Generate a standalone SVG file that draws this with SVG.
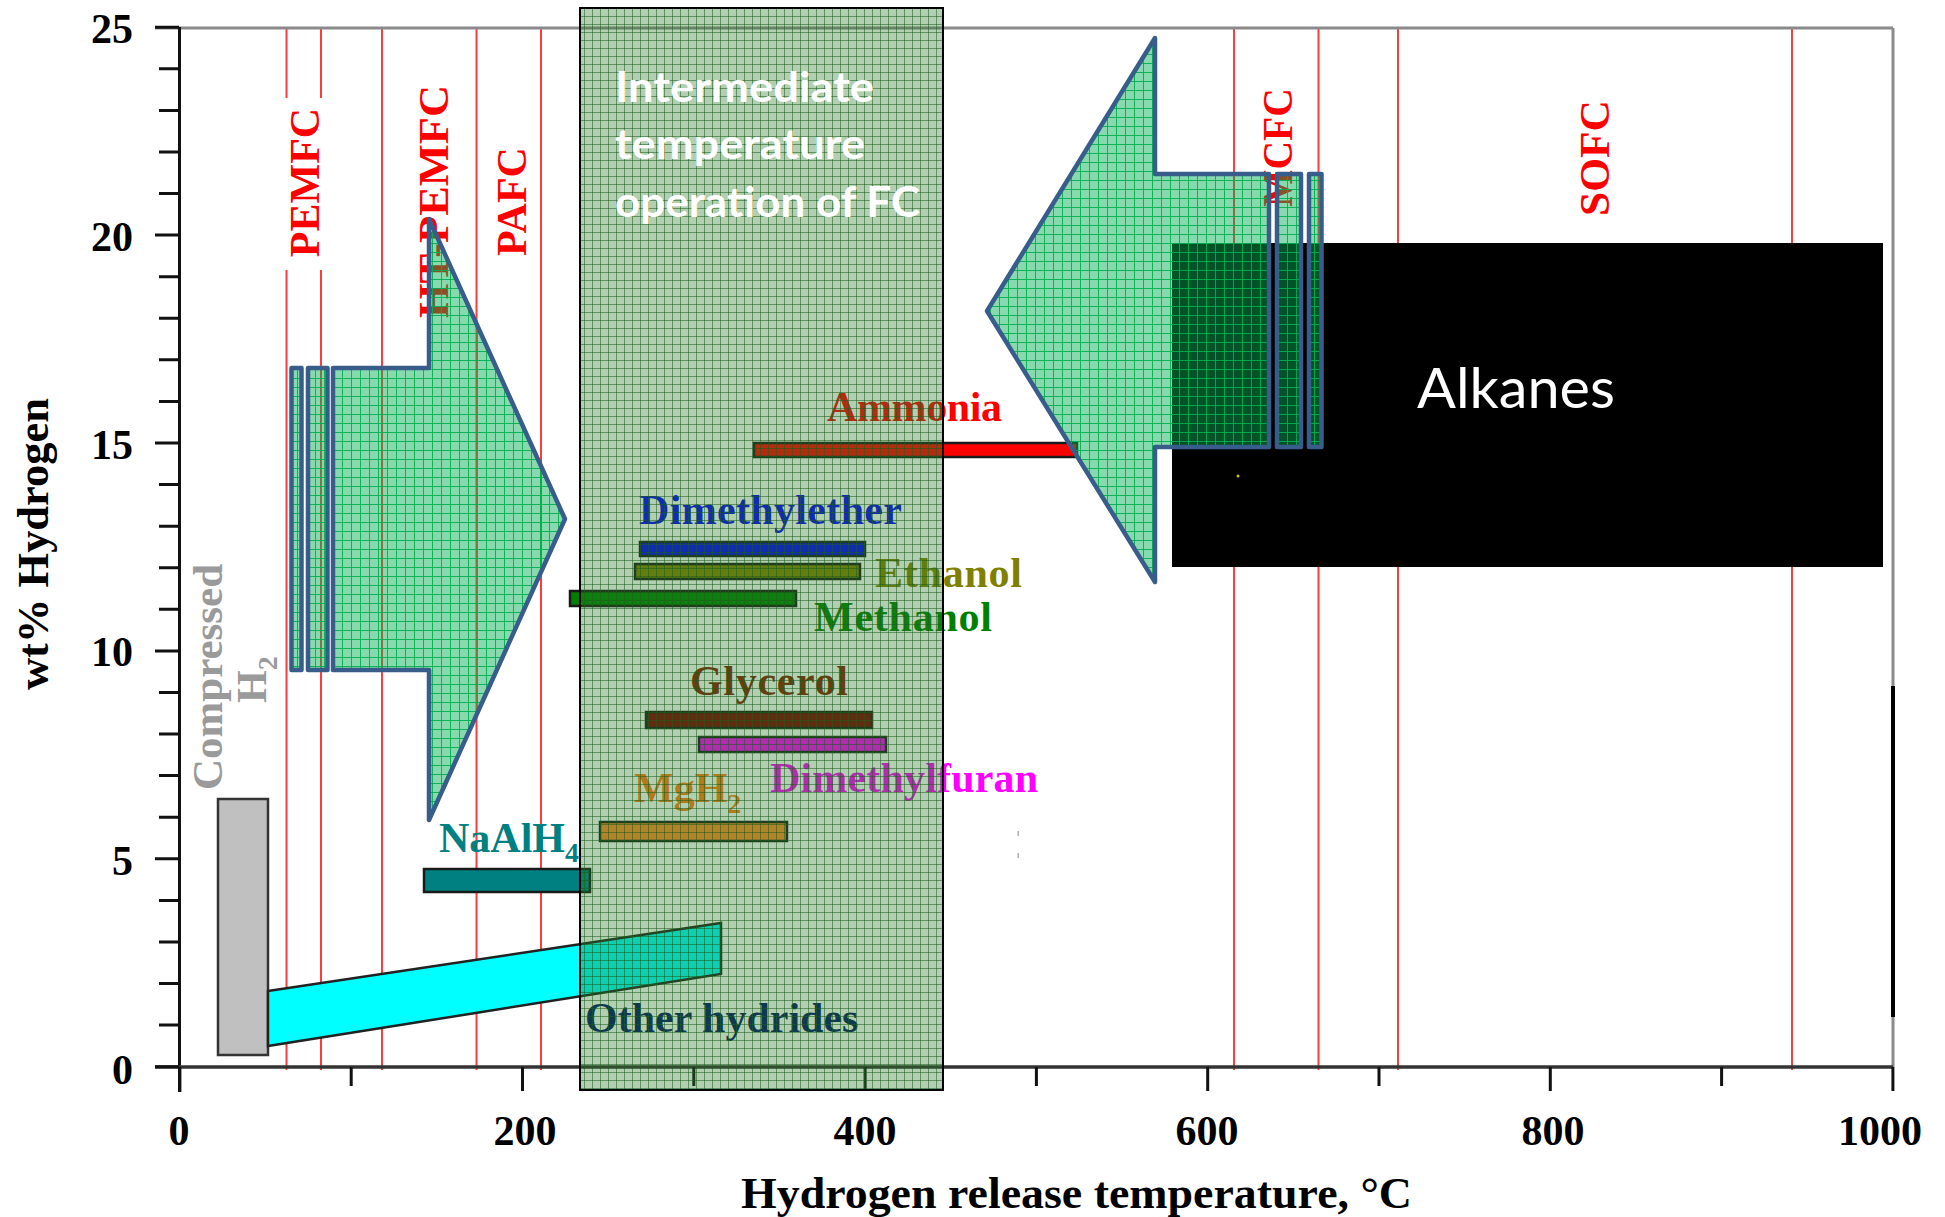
<svg xmlns="http://www.w3.org/2000/svg" width="1945" height="1217" viewBox="0 0 1945 1217">
<defs>
  <pattern id="hatchFC" width="8" height="8" patternUnits="userSpaceOnUse">
    <rect width="8" height="8" fill="#2a7a2a" fill-opacity="0.36"/>
    <path d="M0 0.5H8M0.5 0V8" stroke="#1c5c1c" stroke-opacity="0.55" stroke-width="1"/>
  </pattern>
  <pattern id="hatchArrow" width="9" height="9" patternUnits="userSpaceOnUse">
    <rect width="9" height="9" fill="#00b050" fill-opacity="0.47"/>
    <path d="M0 0.5H9M0.5 0V9" stroke="#00b050" stroke-opacity="0.9" stroke-width="1"/>
  </pattern>
</defs>
<style>
  .serif{font-family:"Liberation Serif","Times New Roman",serif;font-weight:bold}
  .tick{font-size:42px;fill:#000}
  .fc{fill:#ff0000;font-size:42px;text-anchor:middle}
  .lab{font-size:42px}
  .sub{font-size:28px}
  .red{stroke:#ff3b3b;stroke-width:2;fill:none}
  .bar{stroke:#1a1a1a;stroke-width:2.5}
  .arrow{stroke:#385d8a;stroke-width:4.5;stroke-linejoin:round;fill:url(#hatchArrow)}
  .sans{font-family:Lato,"Open Sans","Liberation Sans",sans-serif;fill:#fff}
</style>
<rect width="1945" height="1217" fill="#ffffff"/>

<g id="fc-lines">
  <path class="red" d="M286.5 28V98M286.5 270V1070M321 28V98M321 270V1070M382 28V1070M476.5 28V1070M541 28V1070M1234 28V1070M1318.5 28V1070M1398 28V1070M1792 28V1070"/>
</g>

<g id="axes">
  <line x1="155" y1="28" x2="1893" y2="28" stroke="#8a8a8a" stroke-width="3"/>
  <line x1="1893" y1="28" x2="1893" y2="1067" stroke="#8a8a8a" stroke-width="3"/>
  <line x1="1893" y1="686" x2="1893" y2="1017" stroke="#000" stroke-width="4"/>
  <line x1="179.5" y1="27" x2="179.5" y2="1092" stroke="#111" stroke-width="3"/>
  <line x1="155" y1="1067" x2="1893" y2="1067" stroke="#333" stroke-width="3.5"/>
  <path stroke="#111" stroke-width="3" fill="none" d="M155 1066.7H179M159 1025.1H179M159 983.5H179M159 941.9H179M159 900.4H179M155 858.8H179M159 817.2H179M159 775.6H179M159 734.1H179M159 692.5H179M155 650.9H179M159 609.3H179M159 567.7H179M159 526.2H179M159 484.6H179M155 443H179M159 401.4H179M159 359.8H179M159 318.3H179M159 276.7H179M155 235.1H179M159 193.5H179M159 151.9H179M159 110.4H179M159 68.8H179M155 27.2H179"/>
  <path stroke="#111" stroke-width="3" fill="none" d="M179.9 1067V1092M351.2 1067V1086M522.5 1067V1091M693.8 1067V1086M865.1 1067V1091M1036.4 1067V1086M1207.7 1067V1091M1379 1067V1086M1550.3 1067V1091M1721.6 1067V1086M1892.9 1067V1091"/>
  <g class="serif tick" text-anchor="end">
    <text x="133" y="43">25</text>
    <text x="133" y="251">20</text>
    <text x="133" y="459">15</text>
    <text x="133" y="666">10</text>
    <text x="133" y="875">5</text>
    <text x="133" y="1084">0</text>
  </g>
  <g class="serif tick" text-anchor="middle">
    <text x="179" y="1145">0</text>
    <text x="525" y="1145">200</text>
    <text x="865" y="1145">400</text>
    <text x="1207" y="1145">600</text>
    <text x="1553" y="1145">800</text>
    <text x="1880" y="1145">1000</text>
  </g>
  <text class="serif" font-size="44" x="741" y="1208" textLength="671" lengthAdjust="spacingAndGlyphs">Hydrogen release temperature, °C</text>
  <text class="serif" font-size="44" text-anchor="middle" transform="translate(48,544) rotate(-90)" textLength="292" lengthAdjust="spacingAndGlyphs">wt% Hydrogen</text>
</g>

<g id="fc-labels" class="serif fc">
  <text transform="translate(319,182.5) rotate(-90)">PEMFC</text>
  <text transform="translate(448,201.5) rotate(-90)" textLength="233" lengthAdjust="spacingAndGlyphs">HT-PEMFC</text>
  <text transform="translate(526,201.5) rotate(-90)">PAFC</text>
  <text transform="translate(1292,147.5) rotate(-90)" textLength="119" lengthAdjust="spacingAndGlyphs">MCFC</text>
  <text transform="translate(1609,158) rotate(-90)" textLength="116" lengthAdjust="spacingAndGlyphs">SOFC</text>
</g>

<g id="compressed-h2">
  <rect x="218" y="799" width="50" height="256" fill="#c0c0c0" stroke="#333" stroke-width="2.5"/>
  <text class="serif" font-size="43" fill="#9a9a9a" text-anchor="middle" transform="translate(222,677) rotate(-90)">Compressed</text>
  <text class="serif" font-size="42" fill="#9a9a9a" transform="translate(266,703) rotate(-90)">H<tspan class="sub" dy="11">2</tspan></text>
</g>

<g id="other-hydrides">
  <polygon points="268,991 721,923 721,974 268,1046" fill="#00ffff" stroke="#222" stroke-width="2.5"/>
  <text class="serif lab" x="585" y="1032" fill="#001466">Other hydrides</text>
</g>

<g id="naalh4">
  <rect class="bar" x="424" y="869" width="166" height="23" fill="#008080"/>
  <text class="serif lab" x="439" y="852" fill="#008080">NaAlH<tspan class="sub" dy="10">4</tspan></text>
</g>

<g id="mgh2">
  <rect class="bar" x="600" y="822" width="187" height="19" fill="#ff8a2a"/>
  <text class="serif lab" x="634" y="802" fill="#ff7a10">MgH<tspan class="sub" dy="11">2</tspan></text>
</g>

<g id="dimethylfuran">
  <rect class="bar" x="699" y="737" width="187" height="15" fill="#ff00ff"/>
  <text class="serif lab" x="770" y="792" fill="#ff00ff" textLength="268">Dimethylfuran</text>
</g>

<g id="glycerol">
  <rect class="bar" x="646" y="712" width="226" height="16" fill="#800000"/>
  <text class="serif lab" x="690" y="695" fill="#8a1a00" textLength="158">Glycerol</text>
</g>

<g id="methanol">
  <rect class="bar" x="570" y="591" width="226" height="15" fill="#008000"/>
  <text class="serif lab" x="814" y="631" fill="#008000" textLength="178">Methanol</text>
</g>

<g id="ethanol">
  <rect class="bar" x="635" y="564" width="225" height="15" fill="#808000"/>
  <text class="serif lab" x="875" y="587" fill="#808000" textLength="147">Ethanol</text>
</g>

<g id="dimethylether">
  <rect class="bar" x="640" y="542" width="225" height="14" fill="#0000ff"/>
  <text class="serif lab" x="639" y="524" fill="#0000ff" textLength="263">Dimethylether</text>
</g>

<g id="ammonia">
  <rect class="bar" x="754" y="443" width="323" height="14" fill="#ff0000"/>
  <text class="serif lab" x="827" y="421" fill="#ff0000" textLength="175">Ammonia</text>
</g>

<g id="alkanes">
  <rect x="1172" y="243" width="711" height="324" fill="#000"/>
  <text class="sans" x="1417" y="408" font-size="56" textLength="198" lengthAdjust="spacingAndGlyphs">Alkanes</text>
  <circle cx="1238" cy="476" r="1.5" fill="#c8c800"/>
</g>

<g id="artifacts" fill="#b0b0b0">
  <rect x="1017.5" y="831" width="1.5" height="5"/>
  <rect x="1017.5" y="853" width="1.5" height="5"/>
</g>

<g id="intermediate-zone">
  <rect x="580" y="8" width="363" height="1082" fill="url(#hatchFC)" stroke="#000" stroke-width="2"/>
  <g class="sans" font-weight="bold" font-size="42">
    <text x="615" y="102" textLength="259" lengthAdjust="spacingAndGlyphs">Intermediate</text>
    <text x="615" y="159" textLength="250" lengthAdjust="spacingAndGlyphs">temperature</text>
    <text x="615" y="217" textLength="305" lengthAdjust="spacingAndGlyphs">operation of FC</text>
  </g>
</g>

<g id="connectors">
  <g id="arrow-low-temp">
    <rect class="arrow" x="291.5" y="368" width="10" height="302"/>
    <rect class="arrow" x="308" y="368" width="19.5" height="302"/>
    <path class="arrow" d="M333 368H429V219L565 519L429 820V670H333Z"/>
  </g>
  <g id="arrow-high-temp">
    <rect class="arrow" x="1277" y="174" width="24" height="273"/>
    <rect class="arrow" x="1309" y="174" width="12.5" height="273"/>
    <path class="arrow" d="M1269 174H1155V38L987 311L1155 582V447H1269Z"/>
  </g>
</g>
</svg>
